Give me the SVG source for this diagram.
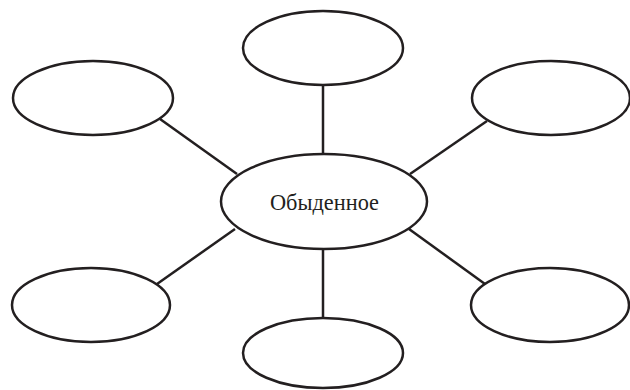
<svg xmlns="http://www.w3.org/2000/svg" width="630" height="390" viewBox="0 0 630 390">
<style>
.n ellipse{fill:#fff;stroke:#231f20;stroke-width:2.5}
.c line{stroke:#231f20;stroke-width:2.5}
.t{font-family:"Liberation Serif","DejaVu Serif",serif;font-size:23px;fill:#231f20}
</style>
<rect width="630" height="390" fill="#fff"/>
<g class="c" id="connectors">
<line x1="323" y1="84" x2="323" y2="155"/>
<line x1="160" y1="119" x2="237" y2="174"/>
<line x1="487" y1="121" x2="410" y2="174"/>
<line x1="157" y1="284" x2="235" y2="229"/>
<line x1="485" y1="284" x2="409" y2="229"/>
<line x1="323" y1="249" x2="323" y2="318"/>
</g>
<g class="n" id="center"><ellipse cx="324" cy="201.5" rx="103" ry="47.5"/><text class="t" x="324.5" y="210" text-anchor="middle" textLength="109" lengthAdjust="spacingAndGlyphs">Обыденное</text></g>
<g class="n" id="top"><ellipse cx="323" cy="48" rx="80" ry="37"/></g>
<g class="n" id="top-left"><ellipse cx="93" cy="98" rx="80" ry="37"/></g>
<g class="n" id="top-right"><ellipse cx="551" cy="98" rx="79" ry="37"/></g>
<g class="n" id="bottom-left"><ellipse cx="91" cy="305" rx="79" ry="37"/></g>
<g class="n" id="bottom-right"><ellipse cx="550" cy="305" rx="79" ry="37"/></g>
<g class="n" id="bottom"><ellipse cx="323" cy="353" rx="80" ry="35"/></g>
</svg>
